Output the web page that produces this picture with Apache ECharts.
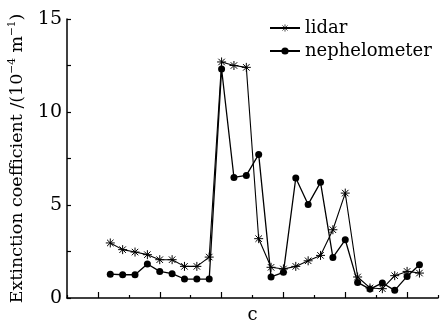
<!DOCTYPE html>
<html>
<head>
<meta charset="utf-8">
<script src="https://cdn.jsdelivr.net/npm/echarts@6/dist/echarts.min.js"></script>
<style>
  html, body { margin: 0; padding: 0; background: #fff; }
  #chart { width: 447px; height: 321px; }
</style>
</head>
<body>
<div id="chart"></div>
<script>
// Sample positions along the horizontal axis (axis spans 0..30)
const samplePos = [3.5, 4.5, 5.5, 6.5, 7.5, 8.5, 9.5, 10.5, 11.5, 12.5, 13.5, 14.5, 15.5,
  16.5, 17.5, 18.5, 19.5, 20.5, 21.5, 22.5, 23.5, 24.5, 25.5, 26.5, 27.5, 28.5];

// Extinction coefficient, 10^-4 m^-1
const lidar = [2.96, 2.6, 2.47, 2.33, 2.06, 2.06, 1.7, 1.7, 2.2, 12.69, 12.5, 12.4, 3.19,
  1.65, 1.56, 1.7, 2.0, 2.29, 3.67, 5.64, 1.13, 0.54, 0.5, 1.2, 1.43, 1.34];
const nephelometer = [1.28, 1.25, 1.25, 1.83, 1.43, 1.31, 1.02, 1.02, 1.02, 12.31, 6.48, 6.59, 7.72,
  1.13, 1.38, 6.45, 5.03, 6.22, 2.18, 3.13, 0.84, 0.48, 0.81, 0.41, 1.16, 1.79];

// Long tick positions on the horizontal axis; short ticks fall every 5 units from 0
const xMajorTicks = [2.5, 7.5, 12.5, 17.5, 22.5, 27.5];

const yTickLabels = [0, 5, 10, 15];

const FONT = 'DejaVu Serif';
const asterisk = 'path://M0,-5L0,5M-5,0L5,0M-3.6,-3.6L3.6,3.6M-3.6,3.6L3.6,-3.6';

const pair = (vals) => vals.map((v, i) => [samplePos[i], v]);

const chart = echarts.init(document.getElementById('chart'), null, { renderer: 'canvas' });
chart.setOption({
  animation: false,
  backgroundColor: '#fff',
  grid: { left: 67, right: 9, top: 19, bottom: 23, containLabel: false, outerBoundsMode: 'none' },
  legend: {
    orient: 'vertical',
    left: 264,
    top: 14,
    itemGap: 5,
    itemWidth: 30,
    itemHeight: 9,
    textStyle: { fontFamily: FONT, fontSize: 18, color: '#000' },
    data: [
      { name: 'lidar', itemStyle: { borderWidth: 0.7 } },
      { name: 'nephelometer' }
    ]
  },
  xAxis: [
    {
      type: 'value',
      min: 0,
      max: 30,
      interval: 5,
      position: 'bottom',
      name: 'c',
      nameLocation: 'middle',
      nameGap: 8,
      nameTextStyle: { fontFamily: FONT, fontSize: 18, color: '#000' },
      axisLine: { lineStyle: { color: '#000', width: 1.5 } },
      axisTick: { show: true, inside: true, length: 3, lineStyle: { color: '#000', width: 1.2 } },
      axisLabel: { show: false },
      splitLine: { show: false }
    },
    {
      type: 'value',
      min: 0,
      max: 30,
      position: 'bottom',
      offset: 0,
      axisLine: { show: false },
      axisTick: { show: true, inside: true, length: 6, customValues: xMajorTicks, lineStyle: { color: '#000', width: 1.2 } },
      axisLabel: { show: false },
      splitLine: { show: false }
    }
  ],
  yAxis: {
    type: 'value',
    min: 0,
    max: 15,
    interval: 2.5,
    name: '{a|Extinction coefficient /(10}{s|−4}{a| m}{s|−1}{a|)}',
    nameLocation: 'middle',
    nameGap: 26,
    nameRotate: 90,
    nameTextStyle: {
      fontFamily: FONT, color: '#000',
      rich: {
        a: { fontFamily: FONT, fontSize: 17.5, lineHeight: 22, color: '#000' },
        s: { fontFamily: FONT, fontSize: 10.5, lineHeight: 12, verticalAlign: 'top', color: '#000' }
      }
    },
    axisLine: { show: true, lineStyle: { color: '#000', width: 1.5 } },
    axisTick: { inside: true, length: 4, lineStyle: { color: '#000', width: 1.2 } },
    axisLabel: {
      margin: 5,
      fontFamily: FONT, fontSize: 19, color: '#000',
      formatter: (v) => (yTickLabels.indexOf(v) >= 0 ? String(v) : '')
    },
    splitLine: { show: false }
  },
  series: [
    {
      name: 'lidar',
      type: 'line',
      xAxisIndex: 0,
      data: pair(lidar),
      symbol: asterisk,
      symbolSize: 9,
      lineStyle: { color: '#000', width: 1.1 },
      itemStyle: { color: '#000', borderColor: '#000', borderWidth: 1 }
    },
    {
      name: 'nephelometer',
      type: 'line',
      xAxisIndex: 0,
      data: pair(nephelometer),
      symbol: 'circle',
      symbolSize: 7,
      lineStyle: { color: '#000', width: 1.3 },
      itemStyle: { color: '#000', borderColor: '#000', borderWidth: 0 }
    }
  ]
});
</script>
</body>
</html>
